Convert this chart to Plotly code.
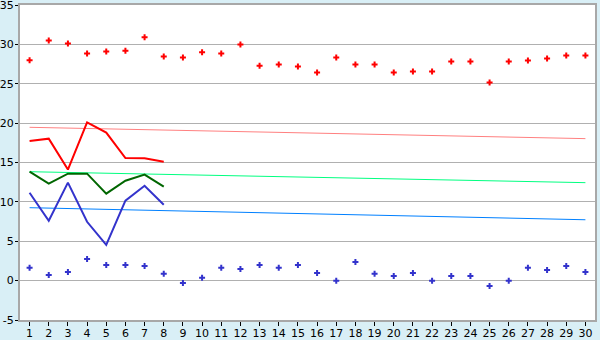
import plotly.graph_objects as go

days = list(range(1, 31))

y_ticks = [-5, 0, 5, 10, 15, 20, 25, 30, 35]
y_labels = ["-5", "0", "5", "10", "15", "20", "25", "30", "35"]

max_pts = [28.0, 30.5, 30.1, 28.85, 29.1, 29.2, 30.9, 28.47, 28.34, 29.0,
           28.85, 30.0, 27.3, 27.45, 27.2, 26.43, 28.34, 27.45, 27.45, 26.43,
           26.56, 26.56, 27.83, 27.83, 25.16, 27.83, 27.96, 28.2, 28.6, 28.6]
min_pts = [1.62, 0.73, 1.11, 2.76, 2.0, 2.0, 1.87, 0.86, -0.29, 0.35,
           1.62, 1.49, 2.0, 1.62, 2.0, 0.98, 0.0, 2.38, 0.86, 0.6,
           0.98, 0.0, 0.6, 0.6, -0.67, 0.0, 1.62, 1.36, 1.87, 1.11]

obs_days = [1, 2, 3, 4, 5, 6, 7, 8]
obs_max = [17.73, 18.03, 14.1, 20.1, 18.8, 15.57, 15.55, 15.1]
obs_mean = [13.83, 12.31, 13.58, 13.58, 11.04, 12.69, 13.46, 11.93]
obs_min = [11.16, 7.6, 12.44, 7.47, 4.55, 10.15, 12.05, 9.64]

norm_days = [1, 30]
norm_max = [19.47, 18.03]
norm_mean = [13.83, 12.44]
norm_min = [9.26, 7.73]

fig = go.Figure()

fig.add_trace(go.Scatter(x=norm_days, y=norm_max, mode="lines",
                         line=dict(color="#ff8080", width=1)))
fig.add_trace(go.Scatter(x=norm_days, y=norm_mean, mode="lines",
                         line=dict(color="#00ff80", width=1)))
fig.add_trace(go.Scatter(x=norm_days, y=norm_min, mode="lines",
                         line=dict(color="#0080ff", width=1)))

fig.add_trace(go.Scatter(x=obs_days, y=obs_max, mode="lines",
                         line=dict(color="#ff0000", width=2)))
fig.add_trace(go.Scatter(x=obs_days, y=obs_mean, mode="lines",
                         line=dict(color="#006600", width=2)))
fig.add_trace(go.Scatter(x=obs_days, y=obs_min, mode="lines",
                         line=dict(color="#3333cc", width=2)))

fig.add_trace(go.Scatter(x=days, y=max_pts, mode="markers",
                         marker=dict(symbol="cross", size=5, color="#ff0000",
                                     line=dict(width=0))))
fig.add_trace(go.Scatter(x=days, y=min_pts, mode="markers",
                         marker=dict(symbol="cross", size=5, color="#3333cc",
                                     line=dict(width=0))))

fig.update_layout(
    width=600, height=340,
    margin=dict(l=20, r=5, t=5, b=20),
    paper_bgcolor="#d9eff6",
    plot_bgcolor="#ffffff",
    showlegend=False,
    font=dict(family="DejaVu Sans", size=11, color="#000000"),
)
fig.update_xaxes(
    range=[0.5, 30.5], tickvals=days, ticks="outside", ticklen=4,
    tickcolor="#000000", showgrid=False, showline=True, linecolor="#a8a8a8",
    linewidth=2, mirror=True, zeroline=False, fixedrange=True,
    automargin=False, ticklabeloverflow="allow", ticklabelstandoff=-2,
)
fig.update_yaxes(
    range=[-5, 35], tickvals=y_ticks, ticktext=y_labels, ticks="outside",
    ticklen=3, tickcolor="#000000", showgrid=True, gridcolor="#b0b0b0",
    gridwidth=1, showline=True, linecolor="#a8a8a8", linewidth=2,
    mirror=True, zeroline=True, zerolinecolor="#b0b0b0", zerolinewidth=1,
    fixedrange=True, automargin=False, ticklabeloverflow="allow",
    ticklabelstandoff=-1,
)

fig.write_html("out.html")
